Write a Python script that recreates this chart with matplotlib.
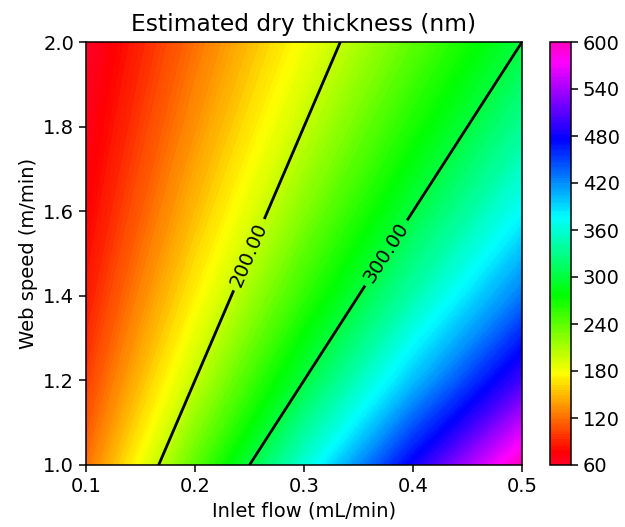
import numpy as np
import matplotlib
matplotlib.use("Agg")
import matplotlib.pyplot as plt

# Caudal de entrada (mL/min) y velocidad de banda (m/min)
flow = [0.1, 0.2, 0.3, 0.4, 0.5]
speed = [1.0, 1.2, 1.4, 1.6, 1.8, 2.0]

# Espesor seco estimado (nm): filas = velocidad, columnas = caudal
thickness = [
    [120.0, 240.0, 360.0, 480.0, 600.0],
    [100.0, 200.0, 300.0, 400.0, 500.0],
    [85.7, 171.4, 257.1, 342.9, 428.6],
    [75.0, 150.0, 225.0, 300.0, 375.0],
    [66.7, 133.3, 200.0, 266.7, 333.3],
    [60.0, 120.0, 180.0, 240.0, 300.0],
]

line_levels = [200, 300]
cbar_ticks = [60, 120, 180, 240, 300, 360, 420, 480, 540, 600]

X, Y = np.meshgrid(flow, speed)
Z = np.array(thickness)

fig = plt.figure(figsize=(6.25, 5.27), dpi=100)
ax = fig.add_axes([86 / 625, 62 / 527, 436 / 625, 423 / 527])
cax = fig.add_axes([550 / 625, 62 / 527, 21 / 625, 423 / 527])

cf = ax.contourf(X, Y, Z, levels=np.linspace(60, 600, 181), cmap="gist_rainbow")
cs = ax.contour(X, Y, Z, levels=line_levels, colors="black", linewidths=2)
ax.clabel(cs, fmt="%.2f", fontsize=14, inline=True,
          manual=[(0.247, 1.50), (0.37, 1.51)])

ax.set_title("Estimated dry thickness (nm)", fontsize=16.8, pad=8)
ax.set_xlabel("Inlet flow (mL/min)", fontsize=14)
ax.set_ylabel("Web speed (m/min)", fontsize=14)
ax.set_xticks([0.1, 0.2, 0.3, 0.4, 0.5])
ax.set_yticks([1.0, 1.2, 1.4, 1.6, 1.8, 2.0])
ax.tick_params(labelsize=14, length=5, width=1.1)
for s in ax.spines.values():
    s.set_linewidth(1.1)

cb = fig.colorbar(cf, cax=cax, ticks=cbar_ticks)
cb.ax.tick_params(labelsize=14, length=5, width=1.1)
cb.outline.set_linewidth(1.1)

fig.savefig("out.png", dpi=100)
